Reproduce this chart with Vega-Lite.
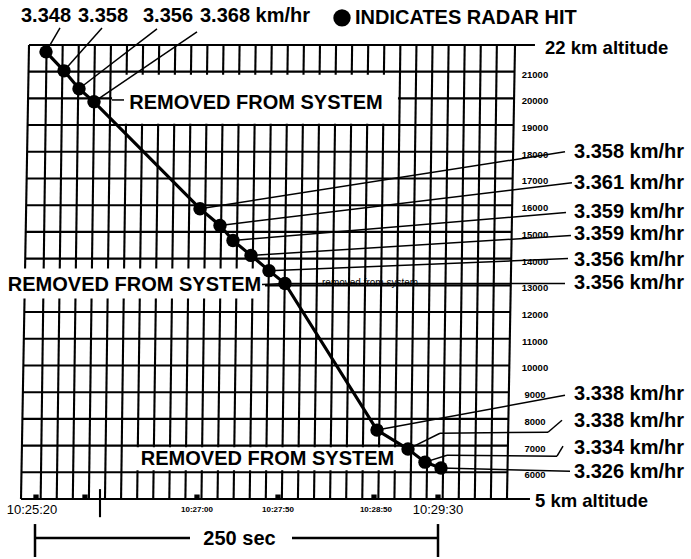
{
  "$schema": "https://vega.github.io/schema/vega-lite/v6.json",
  "width": 691,
  "height": 559,
  "autosize": {"type": "fit", "contains": "padding"},
  "padding": 0,
  "background": "white",
  "config": {"view": {"stroke": null}, "text": {"font": "Liberation Sans"}},
  "datasets": {
    "grid": [
      {"x1": 6.6, "y1": 22, "x2": 2.9, "y2": 5},
      {"x1": 16.6, "y1": 22, "x2": 12.9, "y2": 5},
      {"x1": 26.6, "y1": 22, "x2": 22.9, "y2": 5},
      {"x1": 36.6, "y1": 22, "x2": 32.9, "y2": 5},
      {"x1": 46.6, "y1": 22, "x2": 42.9, "y2": 5},
      {"x1": 56.6, "y1": 22, "x2": 52.9, "y2": 5},
      {"x1": 66.6, "y1": 22, "x2": 62.9, "y2": 5},
      {"x1": 76.6, "y1": 22, "x2": 72.9, "y2": 5},
      {"x1": 86.6, "y1": 22, "x2": 82.9, "y2": 5},
      {"x1": 96.6, "y1": 22, "x2": 92.9, "y2": 5},
      {"x1": 106.6, "y1": 22, "x2": 102.9, "y2": 5},
      {"x1": 116.6, "y1": 22, "x2": 112.9, "y2": 5},
      {"x1": 126.6, "y1": 22, "x2": 122.9, "y2": 5},
      {"x1": 136.6, "y1": 22, "x2": 132.9, "y2": 5},
      {"x1": 146.6, "y1": 22, "x2": 142.9, "y2": 5},
      {"x1": 156.6, "y1": 22, "x2": 152.9, "y2": 5},
      {"x1": 166.6, "y1": 22, "x2": 162.9, "y2": 5},
      {"x1": 176.6, "y1": 22, "x2": 172.9, "y2": 5},
      {"x1": 186.6, "y1": 22, "x2": 182.9, "y2": 5},
      {"x1": 196.6, "y1": 22, "x2": 192.9, "y2": 5},
      {"x1": 206.6, "y1": 22, "x2": 202.9, "y2": 5},
      {"x1": 216.6, "y1": 22, "x2": 212.9, "y2": 5},
      {"x1": 226.6, "y1": 22, "x2": 222.9, "y2": 5},
      {"x1": 236.6, "y1": 22, "x2": 232.9, "y2": 5},
      {"x1": 246.6, "y1": 22, "x2": 242.9, "y2": 5},
      {"x1": 256.6, "y1": 22, "x2": 252.9, "y2": 5},
      {"x1": 266.6, "y1": 22, "x2": 262.9, "y2": 5},
      {"x1": 276.6, "y1": 22, "x2": 272.9, "y2": 5},
      {"x1": 286.6, "y1": 22, "x2": 282.9, "y2": 5},
      {"x1": -4.35, "y1": 22, "x2": -9.33, "y2": 5},
      {"x1": 297.9, "y1": 22, "x2": 292.9, "y2": 5},
      {"x1": -4.35, "y1": 22, "x2": 310.3, "y2": 22},
      {"x1": -4.64, "y1": 21, "x2": 297.61, "y2": 21},
      {"x1": -4.94, "y1": 20, "x2": 297.31, "y2": 20},
      {"x1": -5.23, "y1": 19, "x2": 297.02, "y2": 19},
      {"x1": -5.52, "y1": 18, "x2": 296.72, "y2": 18},
      {"x1": -5.81, "y1": 17, "x2": 296.43, "y2": 17},
      {"x1": -6.11, "y1": 16, "x2": 296.14, "y2": 16},
      {"x1": -6.4, "y1": 15, "x2": 295.84, "y2": 15},
      {"x1": -6.69, "y1": 14, "x2": 295.55, "y2": 14},
      {"x1": -6.99, "y1": 13, "x2": 295.25, "y2": 13},
      {"x1": -7.28, "y1": 12, "x2": 294.96, "y2": 12},
      {"x1": -7.57, "y1": 11, "x2": 294.66, "y2": 11},
      {"x1": -7.87, "y1": 10, "x2": 294.37, "y2": 10},
      {"x1": -8.16, "y1": 9, "x2": 294.08, "y2": 9},
      {"x1": -8.45, "y1": 8, "x2": 293.78, "y2": 8},
      {"x1": -8.74, "y1": 7, "x2": 293.49, "y2": 7},
      {"x1": -9.04, "y1": 6, "x2": 293.19, "y2": 6},
      {"x1": -9.33, "y1": 5, "x2": 307.2, "y2": 5},
      {"x1": 39.8, "y1": 5.37, "x2": 39.8, "y2": 4.32}
    ],
    "masks": [
      {"t1": 47.3, "t2": 225.1, "k1": 20.88, "k2": 19.05},
      {"t1": -22.39, "t2": 142.4, "k1": 13.63, "k2": 12.51},
      {"t1": 61.57, "t2": 225.12, "k1": 6.94, "k2": 6.08}
    ],
    "bar": [
      {"x1": -0.62, "y1": 4.063, "x2": -0.62, "y2": 2.83},
      {"x1": -0.62, "y1": 3.539, "x2": 95.77, "y2": 3.539},
      {"x1": 159.2, "y1": 3.539, "x2": 250.0, "y2": 3.539},
      {"x1": 250.0, "y1": 4.063, "x2": 250.0, "y2": 2.83}
    ],
    "leaders": [
      {"x1": 6.22, "y1": 21.74, "x2": 14.93, "y2": 22.635},
      {"x1": 17.41, "y1": 21.03, "x2": 41.04, "y2": 22.635},
      {"x1": 26.74, "y1": 20.36, "x2": 75.25, "y2": 22.598},
      {"x1": 36.07, "y1": 19.87, "x2": 100.12, "y2": 22.486},
      {"x1": 101.99, "y1": 15.87, "x2": 328.98, "y2": 18.001},
      {"x1": 114.43, "y1": 15.24, "x2": 333.33, "y2": 16.843},
      {"x1": 122.51, "y1": 14.68, "x2": 329.6, "y2": 15.722},
      {"x1": 133.71, "y1": 14.12, "x2": 332.71, "y2": 14.862},
      {"x1": 144.9, "y1": 13.55, "x2": 330.85, "y2": 14.003},
      {"x1": 154.85, "y1": 13.07, "x2": 328.98, "y2": 13.069},
      {"x1": 212.06, "y1": 7.58, "x2": 328.98, "y2": 8.883},
      {"x1": 231.34, "y1": 6.87, "x2": 251.24, "y2": 7.463},
      {"x1": 251.24, "y1": 7.463, "x2": 318.41, "y2": 7.501},
      {"x1": 318.41, "y1": 7.501, "x2": 327.11, "y2": 7.949},
      {"x1": 241.92, "y1": 6.38, "x2": 255.6, "y2": 6.641},
      {"x1": 255.6, "y1": 6.641, "x2": 324.0, "y2": 6.604},
      {"x1": 324.0, "y1": 6.604, "x2": 327.74, "y2": 6.977},
      {"x1": 251.87, "y1": 6.16, "x2": 332.09, "y2": 6.043},
      {"x1": 47.26, "y1": 19.94, "x2": 54.73, "y2": 19.94},
      {"x1": 140.55, "y1": 13.03, "x2": 154.85, "y2": 13.07}
    ],
    "hits": [
      {"t": 6.22, "km": 21.74, "speed": 3.348},
      {"t": 17.41, "km": 21.03, "speed": 3.358},
      {"t": 26.74, "km": 20.36, "speed": 3.356},
      {"t": 36.07, "km": 19.87, "speed": 3.368},
      {"t": 101.99, "km": 15.87, "speed": 3.358},
      {"t": 114.43, "km": 15.24, "speed": 3.361},
      {"t": 122.51, "km": 14.68, "speed": 3.359},
      {"t": 133.71, "km": 14.12, "speed": 3.359},
      {"t": 144.9, "km": 13.55, "speed": 3.356},
      {"t": 154.85, "km": 13.07, "speed": 3.356},
      {"t": 212.06, "km": 7.58, "speed": 3.338},
      {"t": 231.34, "km": 6.87, "speed": 3.338},
      {"t": 241.92, "km": 6.38, "speed": 3.334},
      {"t": 251.87, "km": 6.16, "speed": 3.326}
    ],
    "legendDot": [{"t": 190.3, "km": 23.01}],
    "timeMarks": [
      {"t": 0, "km": 5.07},
      {"t": 30.47, "km": 5.07},
      {"t": 100.12, "km": 5.07},
      {"t": 150.5, "km": 5.07},
      {"t": 210.2, "km": 5.07},
      {"t": 250.0, "km": 5.07}
    ],
    "bigCenter": [
      {"t": 6.22, "km": 23.08, "label": "3.348"},
      {"t": 41.67, "km": 23.08, "label": "3.358"},
      {"t": 82.09, "km": 23.08, "label": "3.356"},
      {"t": 136.82, "km": 19.81, "label": "REMOVED FROM SYSTEM"},
      {"t": 61.26, "km": 13.03, "label": "REMOVED FROM SYSTEM"},
      {"t": 143.97, "km": 6.49, "label": "REMOVED FROM SYSTEM"},
      {"t": 126.55, "km": 3.5, "label": "250 sec"}
    ],
    "bigLeft": [
      {"t": 101.99, "km": 23.08, "label": "3.368 km/hr"},
      {"t": 198.38, "km": 23.01, "label": "INDICATES RADAR HIT"},
      {"t": 334.58, "km": 18.001, "label": "3.358 km/hr"},
      {"t": 334.58, "km": 16.843, "label": "3.361 km/hr"},
      {"t": 334.58, "km": 15.759, "label": "3.359 km/hr"},
      {"t": 334.58, "km": 14.937, "label": "3.359 km/hr"},
      {"t": 334.58, "km": 13.966, "label": "3.356 km/hr"},
      {"t": 334.58, "km": 13.069, "label": "3.356 km/hr"},
      {"t": 334.58, "km": 8.921, "label": "3.338 km/hr"},
      {"t": 334.58, "km": 7.912, "label": "3.338 km/hr"},
      {"t": 334.58, "km": 6.903, "label": "3.334 km/hr"},
      {"t": 334.58, "km": 6.006, "label": "3.326 km/hr"}
    ],
    "altLabels": [
      {"t": 316.54, "km": 21.89, "label": "22 km altitude"},
      {"t": 310.32, "km": 4.92, "label": "5 km altitude"}
    ],
    "timeLabels": [
      {"t": -2.49, "km": 4.58, "label": "10:25:20"},
      {"t": 250.0, "km": 4.58, "label": "10:29:30"}
    ],
    "tinyTimes": [
      {"t": 100.12, "km": 4.58, "label": "10:27:00"},
      {"t": 150.5, "km": 4.58, "label": "10:27:50"},
      {"t": 211.4, "km": 4.58, "label": "10:28:50"}
    ],
    "altTicks": [
      {"t": 310.3, "km": 21, "label": "21000"},
      {"t": 310.3, "km": 20, "label": "20000"},
      {"t": 310.3, "km": 19, "label": "19000"},
      {"t": 310.3, "km": 18, "label": "18000"},
      {"t": 310.3, "km": 17, "label": "17000"},
      {"t": 310.3, "km": 16, "label": "16000"},
      {"t": 310.3, "km": 15, "label": "15000"},
      {"t": 310.3, "km": 14, "label": "14000"},
      {"t": 310.3, "km": 13, "label": "13000"},
      {"t": 310.3, "km": 12, "label": "12000"},
      {"t": 310.3, "km": 11, "label": "11000"},
      {"t": 310.3, "km": 10, "label": "10000"},
      {"t": 310.3, "km": 9, "label": "9000"},
      {"t": 310.3, "km": 8, "label": "8000"},
      {"t": 310.3, "km": 7, "label": "7000"},
      {"t": 310.3, "km": 6, "label": "6000"}
    ],
    "note": [
      {"t": 177.86, "km": 13.07, "label": "removed from system"}
    ]
  },
  "layer": [
    {
      "data": {"name": "grid"},
      "mark": {"type": "rule", "color": "black", "strokeWidth": 2.1},
      "encoding": {
        "x": {"field": "x1", "type": "quantitative", "scale": {"domain": [-22.39, 407.34], "nice": false, "zero": false}, "axis": null},
        "y": {"field": "y1", "type": "quantitative", "scale": {"domain": [2.792, 23.682], "nice": false, "zero": false}, "axis": null},
        "x2": {"field": "x2"},
        "y2": {"field": "y2"}
      }
    },
    {
      "data": {"name": "masks"},
      "mark": {"type": "rect", "color": "white", "opacity": 1},
      "encoding": {
        "x": {"field": "t1", "type": "quantitative", "scale": {"domain": [-22.39, 407.34], "nice": false, "zero": false}, "axis": null},
        "x2": {"field": "t2"},
        "y": {"field": "k1", "type": "quantitative", "scale": {"domain": [2.792, 23.682], "nice": false, "zero": false}, "axis": null},
        "y2": {"field": "k2"}
      }
    },
    {
      "data": {"name": "bar"},
      "mark": {"type": "rule", "color": "black", "strokeWidth": 2.5},
      "encoding": {
        "x": {"field": "x1", "type": "quantitative", "scale": {"domain": [-22.39, 407.34], "nice": false, "zero": false}, "axis": null},
        "y": {"field": "y1", "type": "quantitative", "scale": {"domain": [2.792, 23.682], "nice": false, "zero": false}, "axis": null},
        "x2": {"field": "x2"},
        "y2": {"field": "y2"}
      }
    },
    {
      "data": {"name": "leaders"},
      "mark": {"type": "rule", "color": "black", "strokeWidth": 1.5},
      "encoding": {
        "x": {"field": "x1", "type": "quantitative", "scale": {"domain": [-22.39, 407.34], "nice": false, "zero": false}, "axis": null},
        "y": {"field": "y1", "type": "quantitative", "scale": {"domain": [2.792, 23.682], "nice": false, "zero": false}, "axis": null},
        "x2": {"field": "x2"},
        "y2": {"field": "y2"}
      }
    },
    {
      "data": {"name": "hits"},
      "mark": {"type": "line", "color": "black", "strokeWidth": 3.2},
      "encoding": {
        "x": {"field": "t", "type": "quantitative", "scale": {"domain": [-22.39, 407.34], "nice": false, "zero": false}, "axis": null},
        "y": {"field": "km", "type": "quantitative", "scale": {"domain": [2.792, 23.682], "nice": false, "zero": false}, "axis": null}
      }
    },
    {
      "data": {"name": "hits"},
      "mark": {"type": "point", "filled": true, "color": "black", "opacity": 1, "size": 180},
      "encoding": {
        "x": {"field": "t", "type": "quantitative", "scale": {"domain": [-22.39, 407.34], "nice": false, "zero": false}, "axis": null},
        "y": {"field": "km", "type": "quantitative", "scale": {"domain": [2.792, 23.682], "nice": false, "zero": false}, "axis": null}
      }
    },
    {
      "data": {"name": "legendDot"},
      "mark": {"type": "point", "filled": true, "color": "black", "opacity": 1, "size": 300},
      "encoding": {
        "x": {"field": "t", "type": "quantitative", "scale": {"domain": [-22.39, 407.34], "nice": false, "zero": false}, "axis": null},
        "y": {"field": "km", "type": "quantitative", "scale": {"domain": [2.792, 23.682], "nice": false, "zero": false}, "axis": null}
      }
    },
    {
      "data": {"name": "timeMarks"},
      "mark": {"type": "point", "shape": "square", "filled": true, "color": "black", "opacity": 1, "size": 28},
      "encoding": {
        "x": {"field": "t", "type": "quantitative", "scale": {"domain": [-22.39, 407.34], "nice": false, "zero": false}, "axis": null},
        "y": {"field": "km", "type": "quantitative", "scale": {"domain": [2.792, 23.682], "nice": false, "zero": false}, "axis": null}
      }
    },
    {
      "data": {"name": "bigCenter"},
      "mark": {"type": "text", "fontSize": 20, "fontWeight": "bold", "align": "center", "baseline": "middle", "color": "black"},
      "encoding": {
        "x": {"field": "t", "type": "quantitative", "scale": {"domain": [-22.39, 407.34], "nice": false, "zero": false}, "axis": null},
        "y": {"field": "km", "type": "quantitative", "scale": {"domain": [2.792, 23.682], "nice": false, "zero": false}, "axis": null},
        "text": {"field": "label"}
      }
    },
    {
      "data": {"name": "bigLeft"},
      "mark": {"type": "text", "fontSize": 20, "fontWeight": "bold", "align": "left", "baseline": "middle", "color": "black"},
      "encoding": {
        "x": {"field": "t", "type": "quantitative", "scale": {"domain": [-22.39, 407.34], "nice": false, "zero": false}, "axis": null},
        "y": {"field": "km", "type": "quantitative", "scale": {"domain": [2.792, 23.682], "nice": false, "zero": false}, "axis": null},
        "text": {"field": "label"}
      }
    },
    {
      "data": {"name": "altLabels"},
      "mark": {"type": "text", "fontSize": 18.5, "fontWeight": "bold", "align": "left", "baseline": "middle", "color": "black"},
      "encoding": {
        "x": {"field": "t", "type": "quantitative", "scale": {"domain": [-22.39, 407.34], "nice": false, "zero": false}, "axis": null},
        "y": {"field": "km", "type": "quantitative", "scale": {"domain": [2.792, 23.682], "nice": false, "zero": false}, "axis": null},
        "text": {"field": "label"}
      }
    },
    {
      "data": {"name": "timeLabels"},
      "mark": {"type": "text", "fontSize": 13, "align": "center", "baseline": "middle", "color": "black"},
      "encoding": {
        "x": {"field": "t", "type": "quantitative", "scale": {"domain": [-22.39, 407.34], "nice": false, "zero": false}, "axis": null},
        "y": {"field": "km", "type": "quantitative", "scale": {"domain": [2.792, 23.682], "nice": false, "zero": false}, "axis": null},
        "text": {"field": "label"}
      }
    },
    {
      "data": {"name": "tinyTimes"},
      "mark": {"type": "text", "fontSize": 8, "fontWeight": "bold", "align": "center", "baseline": "middle", "color": "black"},
      "encoding": {
        "x": {"field": "t", "type": "quantitative", "scale": {"domain": [-22.39, 407.34], "nice": false, "zero": false}, "axis": null},
        "y": {"field": "km", "type": "quantitative", "scale": {"domain": [2.792, 23.682], "nice": false, "zero": false}, "axis": null},
        "text": {"field": "label"}
      }
    },
    {
      "data": {"name": "altTicks"},
      "mark": {"type": "text", "fontSize": 9.5, "fontWeight": "bold", "align": "center", "baseline": "middle", "dy": 3, "color": "black"},
      "encoding": {
        "x": {"field": "t", "type": "quantitative", "scale": {"domain": [-22.39, 407.34], "nice": false, "zero": false}, "axis": null},
        "y": {"field": "km", "type": "quantitative", "scale": {"domain": [2.792, 23.682], "nice": false, "zero": false}, "axis": null},
        "text": {"field": "label"}
      }
    },
    {
      "data": {"name": "note"},
      "mark": {"type": "text", "fontSize": 10, "align": "left", "baseline": "middle", "color": "black"},
      "encoding": {
        "x": {"field": "t", "type": "quantitative", "scale": {"domain": [-22.39, 407.34], "nice": false, "zero": false}, "axis": null},
        "y": {"field": "km", "type": "quantitative", "scale": {"domain": [2.792, 23.682], "nice": false, "zero": false}, "axis": null},
        "text": {"field": "label"}
      }
    }
  ]
}
